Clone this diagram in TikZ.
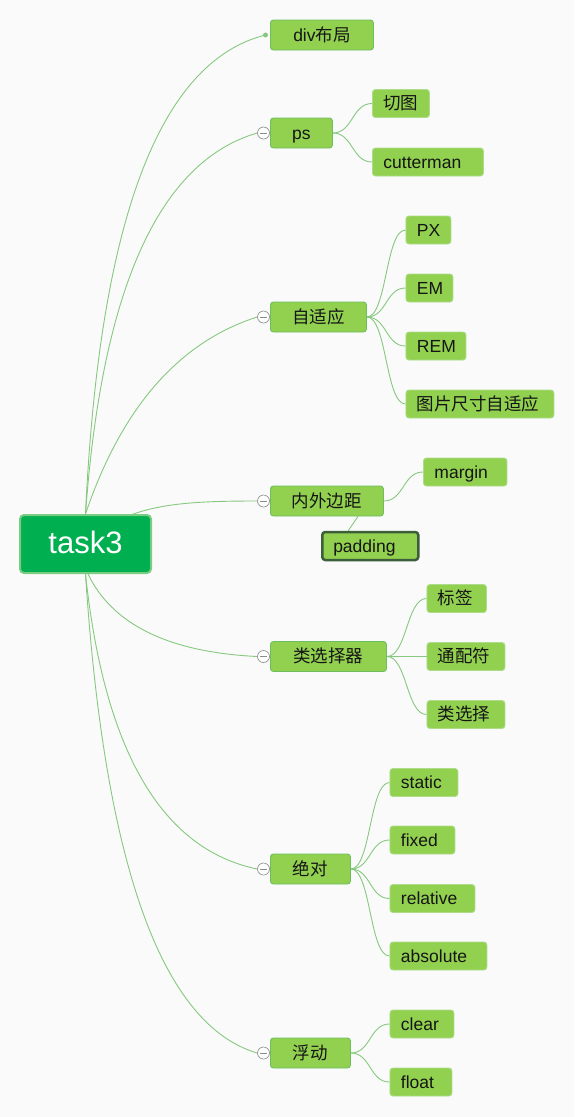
\documentclass[tikz,border=0pt]{standalone}
\usepackage{fontspec}
\setmainfont{Liberation Sans}
\newfontfamily\cjk{Noto Sans CJK SC}
\usetikzlibrary{backgrounds,calc}
\definecolor{bgc}{HTML}{FAFAFA}
\definecolor{nodeg}{HTML}{92D050}
\definecolor{lvlb}{HTML}{6DBE5F}
\definecolor{leafb}{HTML}{ADDD8A}
\definecolor{rootg}{HTML}{00B050}
\definecolor{rootb}{HTML}{7CCB82}
\definecolor{connc}{HTML}{86C97E}
\definecolor{padb}{HTML}{3C5E3A}
\definecolor{txt}{HTML}{151515}
\tikzset{
  base/.style={rounded corners=3pt, fill=nodeg, text=txt,
    font=\fontsize{17.5}{20}\selectfont, text height=13pt, text depth=1pt,
    inner ysep=0pt},
  lvl/.style={base, draw=lvlb, line width=0.9pt, minimum height=30pt,
    minimum width=#1, inner xsep=0pt, align=center, anchor=west},
  leaf/.style={base, draw=leafb, line width=0.9pt, minimum height=28pt,
    text width=#1, inner xsep=11pt, align=left, anchor=west},
  conn/.style={draw=connc, line width=0.9pt},
  collapse/.style={circle, draw=gray!85, fill=white, minimum size=12pt,
    inner sep=0pt, line width=0.7pt,
    path picture={\draw[gray!90, line width=0.7pt]
      ([xshift=2.5pt]path picture bounding box.west) --
      ([xshift=-2.5pt]path picture bounding box.east);}},
}
% quadratic curve from #1 to #3 with control point #2
\newcommand\qcurve[3]{\draw[conn] #1 .. controls ($#1!2/3!#2$) and ($#3!2/3!#2$) .. #3;}
\begin{document}
\begin{tikzpicture}[x=1pt,y=-1pt]
\useasboundingbox (0,0) rectangle (574,1117);
% root
\node[rounded corners=4pt, fill=rootg, draw=rootb, line width=2pt,
  minimum width=131pt, minimum height=58pt, text=white,
  font=\fontsize{31}{36}\selectfont, text height=22pt, text depth=4pt,
  inner sep=0pt] (root) at (85.5,544) {task3};
% level 1
\node[lvl=103pt] (div) at (270,35) {div{\cjk 布局}};
\node[lvl=62pt] (ps) at (270,133) {ps};
\node[lvl=96pt] (zsy) at (270,317) {\cjk 自适应};
\node[lvl=113pt] (nwbj) at (270,501) {\cjk 内外边距};
\node[lvl=116pt] (lxzq) at (270,656.5) {\cjk 类选择器};
\node[lvl=80pt] (jd) at (270,869) {\cjk 绝对};
\node[lvl=80pt] (fd) at (270,1053) {\cjk 浮动};
% markers
\node[circle, fill=connc, inner sep=0pt, minimum size=5pt] (divd) at (265.5,35) {};
\node[collapse] (psc) at (263.5,133) {};
\node[collapse] (zsyc) at (263.5,317) {};
\node[collapse] (nwbjc) at (263.5,501) {};
\node[collapse] (lxzqc) at (263.5,656.5) {};
\node[collapse] (jdc) at (263.5,869) {};
\node[collapse] (fdc) at (263.5,1053) {};
% leaves
\node[leaf=35pt] (qt) at (372,103.5) {\cjk 切图};
\node[leaf=89pt] (cut) at (372,162) {cutterman};
\node[leaf=23pt] (px) at (405.5,230) {PX};
\node[leaf=25pt] (em) at (405.5,288) {EM};
\node[leaf=38pt] (rem) at (405.5,346) {REM};
\node[leaf=126pt] (tp) at (405.5,404) {\cjk 图片尺寸自适应};
\node[leaf=61.5pt] (mg) at (423,472) {margin};
\node[leaf=74pt, draw=padb, line width=2.5pt] (pad) at (321,546) {padding};
\node[leaf=37.5pt] (bq) at (426.5,598.5) {\cjk 标签};
\node[leaf=56pt] (tpf) at (426.5,656.5) {\cjk 通配符};
\node[leaf=56pt] (lxz) at (426.5,714.5) {\cjk 类选择};
\node[leaf=46pt] (st) at (389.5,782.5) {static};
\node[leaf=43pt] (fx) at (389.5,840) {fixed};
\node[leaf=63pt] (rel) at (389.5,898.5) {relative};
\node[leaf=75pt] (abs) at (389.5,956) {absolute};
\node[leaf=42pt] (cl) at (389.5,1024) {clear};
\node[leaf=40pt] (fl) at (389.5,1082) {float};
\begin{scope}[on background layer]
\fill[bgc] (0,0) rectangle (574,1117);
% root branches
\qcurve{(root.north)}{(106,74.7)}{(divd.center)}
\qcurve{(root.north)}{(110,176)}{(psc.west)}
\qcurve{(root.north)}{(139.4,354.8)}{(zsyc.west)}
\draw[conn] (root.center) .. controls (125,505) and (175,501) .. (nwbjc.west);
\qcurve{([xshift=2.5pt]root.south)}{(124.6,650)}{(lxzqc.west)}
\qcurve{(root.south)}{(113.6,839)}{(jdc.west)}
\qcurve{(root.south)}{(114,1010.5)}{(fdc.west)}
% sub branches
\foreach \p/\c in {ps/qt, ps/cut, zsy/px, zsy/em, zsy/rem, zsy/tp, nwbj/mg,
  lxzq/bq, lxzq/tpf, lxzq/lxz, jd/st, jd/fx, jd/rel, jd/abs, fd/cl, fd/fl}
  \draw[conn] (\p.east) .. controls +(20,0) and +(-20,0) .. (\c.west);
\draw[conn] ([xshift=31pt]nwbj.south) -- ([xshift=-22pt]pad.north);
\end{scope}
\end{tikzpicture}
\end{document}
